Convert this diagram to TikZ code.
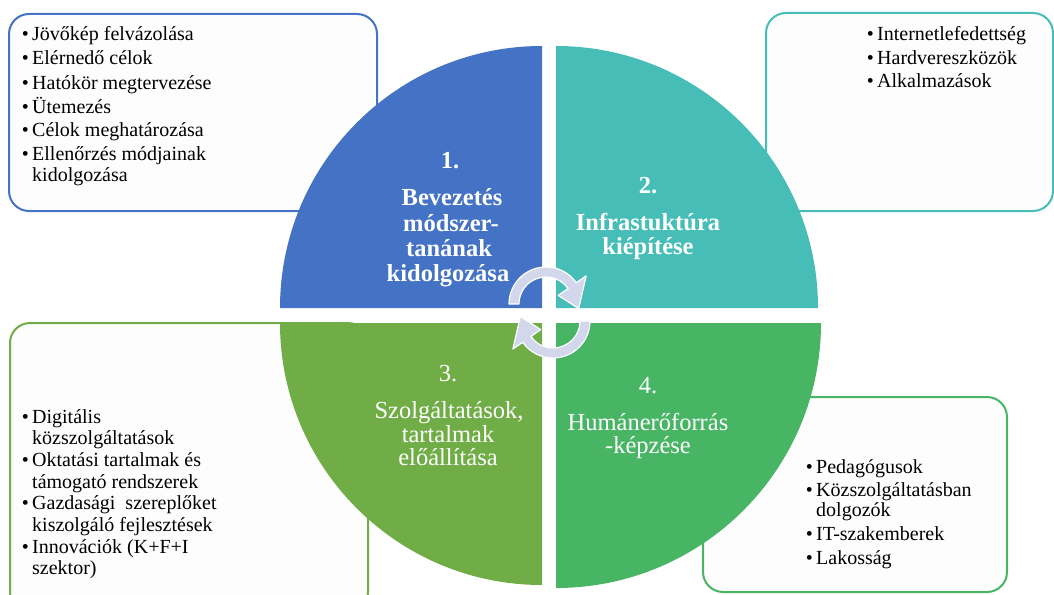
\documentclass[tikz,border=0pt]{standalone}
\usepackage{fontspec}
\setmainfont{Liberation Serif}
\definecolor{qblue}{HTML}{4472C4}
\definecolor{qteal}{HTML}{46BEB7}
\definecolor{qolive}{HTML}{70AD47}
\definecolor{qgreen}{HTML}{48B565}
\definecolor{arrowfill}{HTML}{D3D7EC}
\definecolor{boxfill}{HTML}{FDFDFD}
\newcommand\bul{\makebox[10.4pt][l]{•}}
\begin{document}
\begin{tikzpicture}[x=1pt,y=-1pt,
  infobox/.style={rounded corners=20pt, fill=boxfill, line width=2pt},
  qtext/.style={text=white, font=\fontsize{24.5}{27}\selectfont\bfseries, anchor=base, inner sep=0pt},
  qtextr/.style={text=white, font=\fontsize{24.5}{27}\selectfont, anchor=base, inner sep=0pt},
  item/.style={font=\fontsize{20}{24}\selectfont, anchor=base west, inner sep=0pt},
  cyc/.style={fill=arrowfill, draw=white, line width=1.2pt, line join=round}
]
\useasboundingbox (0,0) rectangle (1054,594);
\clip (0,0) rectangle (1054,594);
% boxes
\draw[infobox, draw=qblue] (9,14) rectangle (377,211);
\draw[infobox, draw=qteal] (766,13) rectangle (1053,211);
\draw[infobox, draw=qolive] (10,323) rectangle (368,612);
\draw[infobox, draw=qgreen] (703,397) rectangle (1007,592);
% quadrants
\fill[qblue] (542,308) -- ++(-262,0) arc[start angle=180,end angle=270,radius=262] -- cycle;
\fill[qteal] (556,308) -- ++(0,-262) arc[start angle=270,end angle=360,radius=262] -- cycle;
\fill[qolive] (542,323) -- ++(0,262) arc[start angle=90,end angle=180,radius=262] -- cycle;
\fill[qgreen] (556,323) -- ++(265,0) arc[start angle=0,end angle=90,radius=265] -- cycle;
% cycle arrows
\coordinate (c1) at (546,304);
\coordinate (c2) at (553,321);
\draw[cyc] ([shift={(180:37)}]c1) arc[start angle=180,end angle=325,radius=37]
  -- ([shift={(325:49)}]c1) -- ([shift={(8:33)}]c1) -- ([shift={(325:15)}]c1)
  -- ([shift={(325:27)}]c1) arc[start angle=325,end angle=180,radius=27] -- cycle;
\draw[cyc] ([shift={(0:37)}]c2) arc[start angle=0,end angle=145,radius=37]
  -- ([shift={(145:49)}]c2) -- ([shift={(188:33)}]c2) -- ([shift={(145:15)}]c2)
  -- ([shift={(145:27)}]c2) arc[start angle=145,end angle=0,radius=27] -- cycle;
% quadrant texts
\node[qtext] (q1n) at (450,168) {1.};
\node[qtext] (q1a) at (452,205) {Bevezetés};
\node[qtext] (q1b) at (451,231) {módszer-};
\node[qtext] (q1c) at (449,256) {tanának};
\node[qtext] (q1d) at (448,281) {kidolgozása};
\node[qtext] (q2n) at (648,193) {2.};
\node[qtext] (q2a) at (648,230) {Infrastuktúra};
\node[qtext] (q2b) at (648,254) {kiépítése};
\node[qtextr] (q3n) at (448,381) {3.};
\node[qtextr] (q3a) at (449,418) {Szolgáltatások,};
\node[qtextr] (q3b) at (448,442) {tartalmak};
\node[qtextr] (q3c) at (448,465) {előállítása};
\node[qtextr] (q4n) at (648,393) {4.};
\node[qtextr] (q4a) at (648,430) {Humánerőforrás};
\node[qtextr] (q4b) at (648,453) {-képzése};
% box 1
\node[item] (b1a) at (21.6,41) {\bul Jövőkép felvázolása};
\node[item] (b1b) at (21.6,65) {\bul Elérnedő célok};
\node[item] (b1c) at (21.6,89) {\bul Hatókör megtervezése};
\node[item] (b1d) at (21.6,113) {\bul Ütemezés};
\node[item] (b1e) at (21.6,136) {\bul Célok meghatározása};
\node[item] (b1f) at (21.6,160) {\bul Ellenőrzés módjainak};
\node[item] (b1g) at (32,181) {kidolgozása};
% box 2
\node[item] (b2a) at (866.6,41) {\bul Internetlefedettség};
\node[item] (b2b) at (866.6,65) {\bul Hardvereszközök};
\node[item] (b2c) at (866.6,88) {\bul Alkalmazások};
% box 3
\node[item] (b3a) at (21.6,423) {\bul Digitális};
\node[item] (b3b) at (32,444) {közszolgáltatások};
\node[item] (b3c) at (21.6,466) {\bul Oktatási tartalmak és};
\node[item] (b3d) at (32,488) {támogató rendszerek};
\node[item] (b3e) at (21.6,509) {\bul Gazdasági\ \ szereplőket};
\node[item] (b3f) at (32,531) {kiszolgáló fejlesztések};
\node[item] (b3g) at (21.6,553) {\bul Innovációk (K+F+I};
\node[item] (b3h) at (32,574) {szektor)};
% box 4
\node[item] (b4a) at (805.6,473) {\bul Pedagógusok};
\node[item] (b4b) at (805.6,496) {\bul Közszolgáltatásban};
\node[item] (b4c) at (816,516) {dolgozók};
\node[item] (b4d) at (805.6,540) {\bul IT-szakemberek};
\node[item] (b4e) at (805.6,564) {\bul Lakosság};
\end{tikzpicture}
\end{document}
